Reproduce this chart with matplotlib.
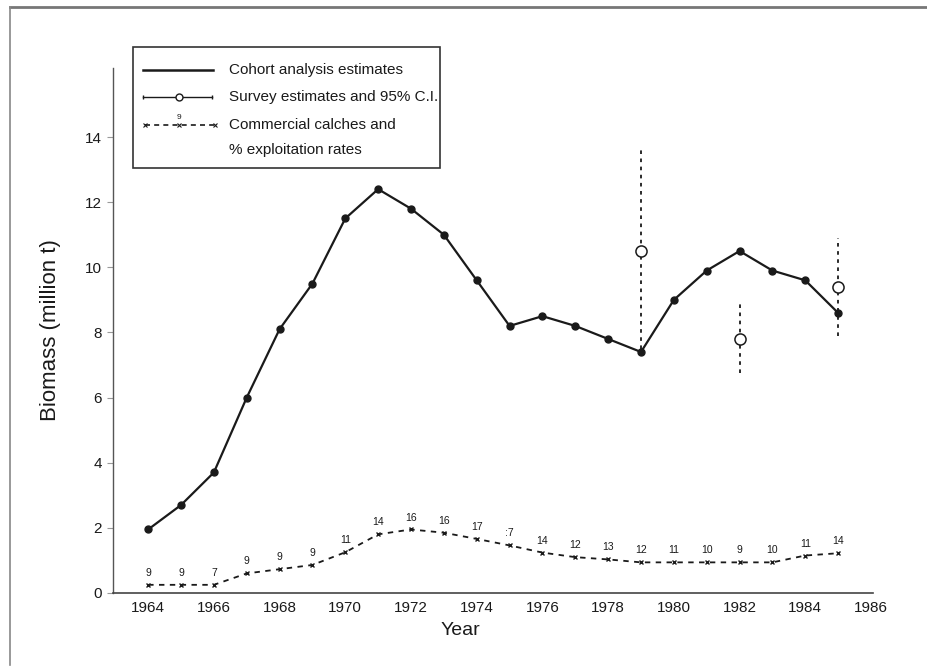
import matplotlib
matplotlib.use('Agg')
import matplotlib.pyplot as plt
from matplotlib.lines import Line2D
from matplotlib.patches import Rectangle

plt.rcParams['font.family'] = ['Liberation Sans', 'DejaVu Sans']

# data
years = list(range(1964, 1986))
cohort = [1.95, 2.7, 3.7, 6.0, 8.1, 9.5, 11.5, 12.4, 11.8, 11.0, 9.6,
          8.2, 8.5, 8.2, 7.8, 7.4, 9.0, 9.9, 10.5, 9.9, 9.6, 8.6]

survey_years = [1979, 1982, 1985]
survey = [10.5, 7.8, 9.4]
survey_lo = [7.5, 6.75, 7.9]
survey_hi = [13.65, 8.9, 10.9]

catches = [0.25, 0.25, 0.25, 0.6, 0.73, 0.86, 1.25, 1.8, 1.95, 1.85, 1.66,
           1.46, 1.24, 1.1, 1.03, 0.94, 0.94, 0.94, 0.94, 0.94, 1.15, 1.22]
rates = ['9', '9', '7', '9', '9', '9', '11', '14', '16', '16', '17',
         ':7', '14', '12', '13', '12', '11', '10', '9', '10', '11', '14']

ink = '#1a1a1a'

fig = plt.figure(figsize=(9.27, 6.72), dpi=100)
ax = fig.add_axes([0.1219, 0.1176, 0.8198, 0.7812])

# cohort analysis estimates
ax.plot(years, cohort, '-', color=ink, lw=1.6, marker='o', ms=5,
        mfc=ink, mec=ink, zorder=3)

# survey estimates with 95% C.I.
for yr, lo, hi in zip(survey_years, survey_lo, survey_hi):
    ax.plot([yr, yr], [lo, hi], color=ink, lw=1.3, ls=(0, (2, 2.5)), zorder=2)
ax.plot(survey_years, survey, 'o', ms=8, mfc='white', mec=ink, mew=1.1,
        zorder=4)

# commercial catches and exploitation rates
ax.plot(years, catches, color=ink, lw=1.3, ls=(0, (3, 3)), marker='x',
        ms=3.5, mew=1.0, zorder=3)
for yr, c, r in zip(years, catches, rates):
    ax.annotate(r, (yr, c), xytext=(0, 5), textcoords='offset points',
                ha='center', va='bottom', fontsize=7.5, color=ink)

ax.set_xlim(1962.93, 1986.06)
ax.set_ylim(0, 16.12)
ax.set_xticks(range(1964, 1987, 2))
ax.set_yticks(range(0, 15, 2))
ax.tick_params(axis='x', length=0, pad=6, labelsize=11, colors=ink)
ax.tick_params(axis='y', length=4, width=0.8, color='#999999', pad=4,
               labelsize=11, labelcolor=ink)
for side in ('top', 'right'):
    ax.spines[side].set_visible(False)
ax.spines['left'].set_color('#555555')
ax.spines['bottom'].set_color('#444444')
ax.spines['left'].set_linewidth(1.0)
ax.spines['bottom'].set_linewidth(1.2)

ax.set_xlabel('Year', fontsize=14, color=ink)
ax.xaxis.set_label_coords(0.457, -0.055)
ax.set_ylabel('Biomass (million t)', fontsize=16, color=ink)
ax.yaxis.set_label_coords(-0.068, 0.5)

# hand-drawn style legend box
lg = fig.add_axes([0.1435, 0.75, 0.331, 0.18])
lg.set_xlim(0, 307)
lg.set_ylim(121, 0)
lg.set_xticks([])
lg.set_yticks([])
for s in lg.spines.values():
    s.set_visible(False)
lg.add_patch(Rectangle((0, 0), 307, 121, fill=False, ec='#333333', lw=1.2,
                       clip_on=False))
lg.plot([10, 80], [23, 23], color=ink, lw=1.8)
lg.plot([10, 79], [50, 50], color=ink, lw=1.0, marker='|', ms=3,
        markevery=[0, 1])
lg.plot([46], [50], 'o', ms=5, mfc='white', mec=ink, mew=1.0)
lg.plot([12, 46, 82], [78, 78, 78], color=ink, lw=1.2, ls=(0, (3, 2.5)),
        marker='x', ms=2.5, mew=0.8)
lg.text(46, 74, '9', fontsize=6, ha='center', va='bottom', color=ink)
txt = dict(fontsize=11, color=ink, va='center', ha='left')
lg.text(96, 23, 'Cohort analysis estimates', **txt)
lg.text(96, 50, 'Survey estimates and 95% C.I.', **txt)
lg.text(96, 78, 'Commercial calches and', **txt)
lg.text(96, 103, '% exploitation rates', **txt)

# scanned page frame
fig.add_artist(Line2D([0.011, 1.0], [0.989, 0.989], color='#777777', lw=2))
fig.add_artist(Line2D([0.011, 0.011], [0.01, 0.989], color='#888888', lw=1.2))

fig.savefig('out.png', dpi=100, facecolor='white')
